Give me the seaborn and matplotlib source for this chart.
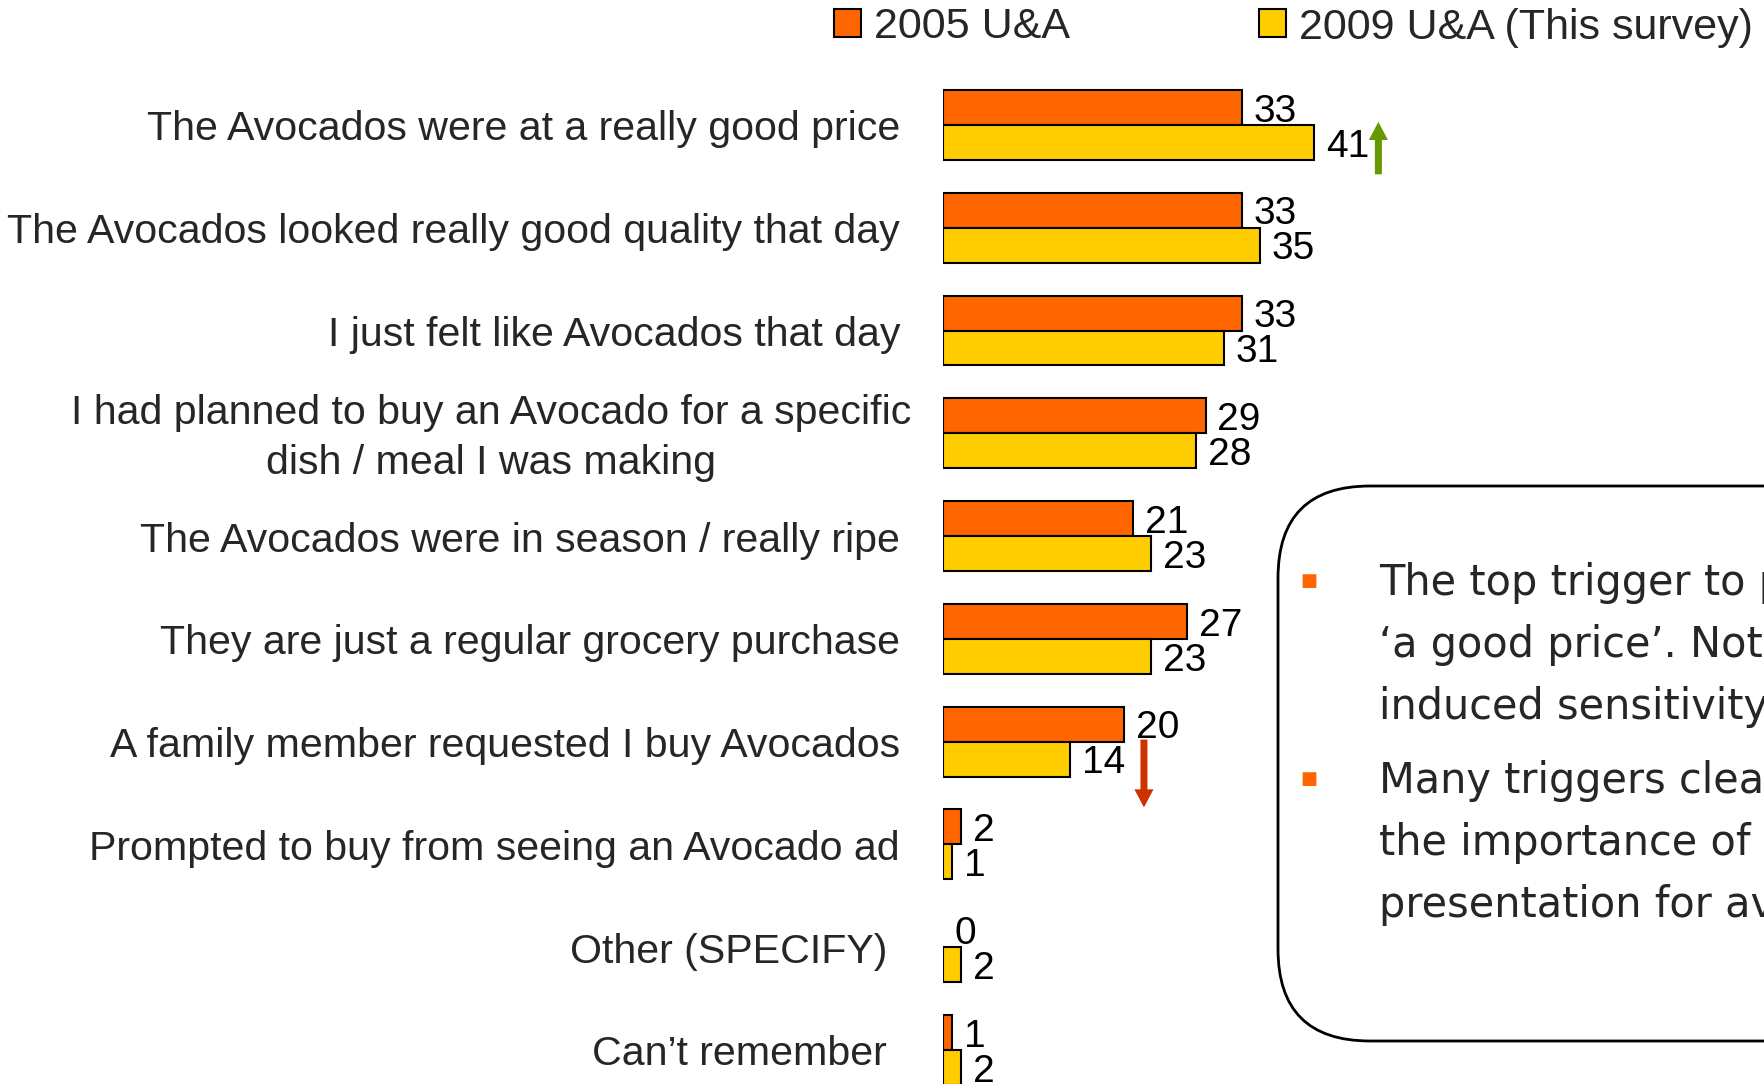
import numpy as np
import pandas as pd
import matplotlib
matplotlib.use('Agg')
import matplotlib.pyplot as plt
import seaborn as sns
from matplotlib.patches import FancyBboxPatch, Patch

# purchase triggers, % of respondents
categories = [
    'The Avocados were at a really good price',
    'The Avocados looked really good quality that day',
    'I just felt like Avocados that day',
    'I had planned to buy an Avocado for a specific\ndish / meal I was making',
    'The Avocados were in season / really ripe',
    'They are just a regular grocery purchase',
    'A family member requested I buy Avocados',
    'Prompted to buy from seeing an Avocado ad',
    'Other (SPECIFY)',
    'Can\u2019t remember',
]
survey_2005 = [33, 33, 33, 29, 21, 27, 20, 2, 0, 1]
survey_2009 = [41, 35, 31, 28, 23, 23, 14, 1, 2, 2]
series_names = ['2005 U&A', '2009 U&A (This survey)']
series_colors = ['#ff6600', '#ffcc00']

# rows with a significant change since 2005
sig_up = [0]
sig_down = [6]

bullets = [
    ['The top trigger to purchase is',
     '\u2018a good price\u2019. Note the recession',
     'induced sensitivity to price.'],
    ['Many triggers clearly relate to',
     'the importance of quality and',
     'presentation for avocados.'],
]

W, H = 1764, 1084


def fx(px):
    return px / W


def fy(py):
    # pixel measured from top
    return 1 - py / H


def main():
    sns.set_style('white')
    plt.rcParams['font.family'] = ['Liberation Sans', 'DejaVu Sans']

    df = pd.DataFrame({
        'Reason': categories * 2,
        'Survey': [series_names[0]] * len(categories) + [series_names[1]] * len(categories),
        'Percent': survey_2005 + survey_2009,
    })

    fig = plt.figure(figsize=(W / 100, H / 100), dpi=100)
    ax = fig.add_axes([fx(943), 0, 1 - fx(943), 1])

    sns.barplot(data=df, y='Reason', x='Percent', hue='Survey', order=categories,
                hue_order=series_names, palette=series_colors, orient='h',
                width=0.68, edgecolor='black', linewidth=1.5, saturation=1,
                errorbar=None, legend=False, ax=ax)

    # zero bars should not show an outline
    for patch in ax.patches:
        if patch.get_width() == 0:
            patch.set_linewidth(0)

    ax.set_xlim(0, 90.7)
    ax.set_ylim(9.331, -1.216)
    ax.set_xticks([])
    ax.set_yticks([])
    ax.set_xlabel('')
    ax.set_ylabel('')
    sns.despine(ax=ax, left=True, bottom=True)

    for cont in ax.containers:
        texts = ax.bar_label(cont, padding=8.5, fontsize=28, color='black')
        for t in texts:
            t.set_y(-3)

    # category labels
    offsets = [-43, -43, -43, -32, -43, -43, -43, -43, -56, -56]
    for i, (lab, off) in enumerate(zip(categories, offsets)):
        ax.annotate(lab, xy=(0, i), xytext=(off, -4.5), textcoords='offset pixels',
                    ha='right', va='center', fontsize=29.6, multialignment='center',
                    linespacing=1.4)

    # significance arrows
    arrow_style = 'simple,head_width=0.98,head_length=0.93,tail_width=0.36'
    for i in sig_up:
        x = survey_2009[i] + 7.1
        ax.annotate('', xy=(x, i - 0.03), xytext=(x, i + 0.48),
                    arrowprops=dict(arrowstyle=arrow_style, mutation_scale=14,
                                    color='#669900', lw=0, shrinkA=0, shrinkB=0))
    for i in sig_down:
        x = survey_2005[i] + 2.2
        ax.annotate('', xy=(x, i + 0.64), xytext=(x, i - 0.02),
                    arrowprops=dict(arrowstyle=arrow_style, mutation_scale=14,
                                    color='#cc3300', lw=0, shrinkA=0, shrinkB=0))

    # legend
    handles = [Patch(facecolor=c, edgecolor='black', linewidth=1.5) for c in series_colors]
    fig.legend(handles, series_names, loc='center left',
               bbox_to_anchor=(fx(834), fy(27.5)), ncol=2, frameon=False,
               fontsize=31, handlelength=0.62, handleheight=0.62,
               handletextpad=0.3, columnspacing=4.4, borderpad=0, borderaxespad=0)

    # commentary box
    box = FancyBboxPatch((12.78, (H - 1041) / 100), 7.0, (1041 - 486) / 100,
                         boxstyle='round,pad=0,rounding_size=0.92',
                         transform=fig.dpi_scale_trans, facecolor='white',
                         edgecolor='black', linewidth=2, zorder=5)
    fig.patches.append(box)

    line_y = [[583, 645, 707], [781, 843, 905]]
    for para, ys in zip(bullets, line_y):
        fig.text(fx(1309), fy(ys[0] - 2), '\u25a0', color='#ff6600', fontsize=13,
                 ha='center', va='center', family='DejaVu Sans', zorder=6)
        for line, y in zip(para, ys):
            fig.text(fx(1379), fy(y), line, fontsize=29.9, ha='left', va='center',
                     family='DejaVu Sans', zorder=6)

    fig.savefig('out.png', dpi=100)
    plt.close(fig)


if __name__ == '__main__':
    main()
